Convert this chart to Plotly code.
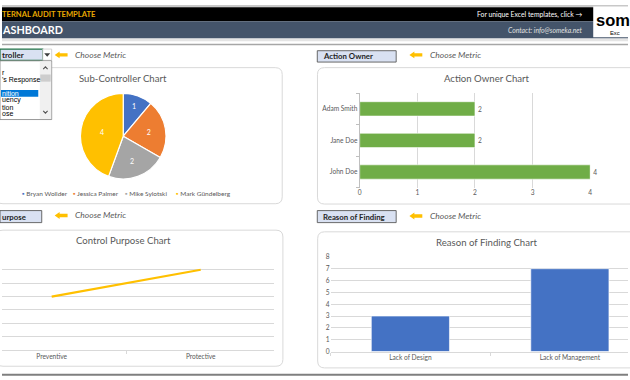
import plotly.graph_objects as go

# ---------------- data ----------------
pie_labels = ["Bryan Wollder", "Jessica Palmer", "Mike Sylotski", "Mark Gündelberg"]
pie_values = [1, 2, 2, 4]
pie_colors = ["#4472C4", "#ED7D31", "#A5A5A5", "#FFC000"]

owner_labels = ["Adam Smith", "Jane Doe", "John Doe"]
owner_values = [2, 2, 4]

purpose_labels = ["Preventive", "Protective"]
purpose_values = [4, 6]

reason_labels = ["Lack of Design", "Lack of Management"]
reason_values = [3, 7]

dropdown_items = ["r", "'s Response", "", "nition", "uency", "tion", "ose"]
dropdown_selected = "nition"

# ---------------- helpers ----------------
W, H = 630, 380
FONT = "Lato"
GRID = "#D9D9D9"
TXT = "#595959"


def X(px):
    return px / W


def Y(py):
    return 1 - py / H


shapes = []
annots = []


def rect(x0, y0, x1, y1, fill, line=None, lw=0, layer="below"):
    shapes.append(dict(type="rect", xref="paper", yref="paper",
                       x0=X(x0), x1=X(x1), y0=Y(y1), y1=Y(y0),
                       fillcolor=fill, line=dict(color=line or fill, width=lw),
                       layer=layer))


def rrect(x0, y0, x1, y1, r, color="#D9D9D9", lw=1):
    p = (f"M {X(x0+r)},{Y(y0)} L {X(x1-r)},{Y(y0)} Q {X(x1)},{Y(y0)} {X(x1)},{Y(y0+r)} "
         f"L {X(x1)},{Y(y1-r)} Q {X(x1)},{Y(y1)} {X(x1-r)},{Y(y1)} "
         f"L {X(x0+r)},{Y(y1)} Q {X(x0)},{Y(y1)} {X(x0)},{Y(y1-r)} "
         f"L {X(x0)},{Y(y0+r)} Q {X(x0)},{Y(y0)} {X(x0+r)},{Y(y0)} Z")
    shapes.append(dict(type="path", xref="paper", yref="paper", path=p,
                       line=dict(color=color, width=lw), layer="below"))


def polyline(pts, color, lw=1, closed=False, fill=None):
    p = "M " + " L ".join(f"{X(a)},{Y(b)}" for a, b in pts) + (" Z" if closed else "")
    d = dict(type="path", xref="paper", yref="paper", path=p,
             line=dict(color=color, width=lw), layer="above")
    if fill:
        d["fillcolor"] = fill
    shapes.append(d)


def arrow(x0, yc, color="#FFC000"):
    pts = [(x0, yc), (x0 + 5, yc - 3.5), (x0 + 5, yc - 1.7), (x0 + 13, yc - 1.7),
           (x0 + 13, yc + 1.7), (x0 + 5, yc + 1.7), (x0 + 5, yc + 3.5)]
    polyline(pts, color, 0, closed=True, fill=color)


def text(x, y, s, size=8, color=TXT, xanchor="left", yanchor="middle", family=FONT):
    annots.append(dict(x=X(x), y=Y(y), xref="paper", yref="paper", text=s,
                       showarrow=False, xanchor=xanchor, yanchor=yanchor,
                       font=dict(family=family, size=size, color=color),
                       borderpad=0, borderwidth=0))


# ---------------- header ----------------
rect(0, 0, W, 2.3, "#C8C8C8")
rect(0, 2.3, W, 16.7, "#000000")
rect(0, 16.7, W, 34.3, "#44546A")
rect(0, 34.3, W, 37, "#E4E4E4")
rect(0, 39.7, W, 41.2, "#A6A6A6")
rect(595, 1.5, W + 2, 33, "#FFFFFF", layer="above")
text(0, 9.5, "<b>TERNAL AUDIT TEMPLATE</b>", 7.6, "#E8A900")
text(0, 25.5, "<b>ASHBOARD</b>", 10.8, "#FFFFFF")
text(584, 10, "For unique Excel templates, click \u2192", 6.8, "#FFFFFF", xanchor="right")
text(585, 25.7, "<i>Contact: info@someka.net</i>", 6.8, "#E0E0E0", xanchor="right")
text(597.5, 15.5, "<b>som</b>", 16.5, "#000000", family="Liberation Sans")
text(612, 28.5, "Exc", 5.8, "#000000", family="Liberation Sans")

# bottom separator
rect(0, 376.6, W, 378.6, "#7F7F7F")

# ---------------- control panels ----------------
# top-left dropdown (active cell)
rect(-2, 45, 41, 56.5, "#D9E1F2", "#217346", 1.2, layer="above")
rect(41, 45, 50, 56.5, "#FFFFFF", "#C8C8C8", 0.8, layer="above")
polyline([(43.8, 50), (45.5, 52), (47.2, 50)], "#404040", 1.2, closed=True, fill="#404040")
text(0, 51, "<b>troller</b>", 8, "#1F1F1F")
# dropdown list
rect(-2, 57, 50, 117, "#FFFFFF", "#7F7F7F", 0.8, layer="above")
rect(38, 57.6, 49.5, 116.4, "#F0F0F0", layer="above")
rect(38.5, 71, 49, 78.3, "#CDCDCD", layer="above")
polyline([(41.5, 65.5), (43.7, 63.2), (45.9, 65.5)], "#505050", 1.1)
polyline([(41.5, 108.2), (43.7, 110.5), (45.9, 108.2)], "#505050", 1.1)
for i, item in enumerate(dropdown_items):
    yy = 69.3 + 7.0 * i
    if item == dropdown_selected:
        rect(-1, yy - 3.4, 36.5, yy + 3.3, "#0078D7", layer="above")
        text(0, yy, item, 7, "#FFFFFF", family="Liberation Sans")
    elif item:
        text(0, yy, item, 7, "#000000", family="Liberation Sans")

# other label boxes
rect(-2, 210, 40, 222.3, "#D9E1F2", "#595959", 0.9, layer="above")
text(0, 216.2, "<b>urpose</b>", 7.8, "#1F1F1F")
rect(317.3, 46.7, 396.7, 58.3, "#D9E1F2", "#595959", 0.9, layer="above")
text(323, 52.5, "<b>Action Owner</b>", 7.8, "#1F1F1F")
rect(317.3, 210, 396.7, 222.3, "#D9E1F2", "#595959", 0.9, layer="above")
text(323, 216.2, "<b>Reason of Finding</b>", 7.8, "#1F1F1F")

for ax, ay, tx in [(53, 51, 73), (410, 51, 431), (53, 215, 73), (410, 215.5, 431)]:
    arrow(ax, ay)
    text(tx, ay, "<i>Choose Metric</i>", 8.5, TXT)

# ---------------- cards ----------------
rrect(-6, 64, 282, 203, 7)
rrect(317.5, 64, 645, 203.3, 7)
rrect(-6, 230, 282.7, 369, 7)
rrect(317.7, 231.7, 645, 370.7, 7)

# chart titles
text(122, 75, "Sub-Controller Chart", 9.6, TXT, xanchor="center")
text(488, 75, "Action Owner Chart", 9.6, TXT, xanchor="center")
text(122, 241, "Control Purpose Chart", 9.6, TXT, xanchor="center")
text(488, 243, "Reason of Finding Chart", 9.6, TXT, xanchor="center")

# pie legend
leg_x = [20, 71, 124, 175]
for lx, lab, col in zip(leg_x, pie_labels, pie_colors):
    text(lx, 192.3, f"<span style='color:{col}'>\u25AA</span> {lab}", 6.5, TXT)

# ---------------- traces ----------------
fig = go.Figure()

fig.add_trace(go.Pie(
    labels=pie_labels, values=pie_values, sort=False, direction="clockwise",
    rotation=0, marker=dict(colors=pie_colors, line=dict(color="#FFFFFF", width=1.2)),
    textinfo="value", textposition="inside", insidetextorientation="horizontal",
    textfont=dict(family=FONT, size=7, color="#FFFFFF"),
    domain=dict(x=[X(78.3), X(165.7)], y=[Y(177.7), Y(90.3)]),
    showlegend=False, hoverinfo="label+value"))

fig.add_trace(go.Bar(
    x=owner_values, y=owner_labels, orientation="h", width=0.455,
    marker=dict(color="#70AD47", line=dict(color="#FFFFFF", width=0.6)),
    text=[str(v) for v in owner_values], textposition="outside",
    textfont=dict(family=FONT, size=6.6, color=TXT), cliponaxis=False,
    xaxis="x", yaxis="y", showlegend=False))

fig.add_trace(go.Scatter(
    x=purpose_labels, y=purpose_values, mode="lines",
    line=dict(color="#FFC000", width=2.2), xaxis="x2", yaxis="y2", showlegend=False))

fig.add_trace(go.Bar(
    x=reason_labels, y=reason_values, width=0.49,
    marker=dict(color="#4472C4", line=dict(color="#FFFFFF", width=0.6)),
    xaxis="x3", yaxis="y3", showlegend=False))

tickf = dict(family=FONT, size=6.6, color=TXT)

fig.update_layout(
    width=W, height=H, margin=dict(l=0, r=0, t=0, b=0),
    paper_bgcolor="#FFFFFF", plot_bgcolor="rgba(0,0,0,0)",
    showlegend=False, shapes=shapes, annotations=annots,
    xaxis=dict(domain=[X(360), X(592)], range=[0, 4], dtick=1, showgrid=True,
               gridcolor=GRID, gridwidth=1, zeroline=False, tickfont=tickf,
               anchor="y", fixedrange=True, ticklen=0),
    yaxis=dict(domain=[Y(186.7), Y(90)], type="category",
               categoryorder="array", categoryarray=owner_labels[::-1],
               showline=True, linecolor="#BFBFBF", linewidth=1, ticks="outside",
               tickson="boundaries", ticklen=3, tickcolor="#BFBFBF",
               showgrid=False, tickfont=tickf, anchor="x", fixedrange=True),
    xaxis2=dict(domain=[0, X(274)], type="category", range=[-0.3333, 1.4933],
                showline=True, linecolor=GRID, ticks="outside", tickson="boundaries",
                ticklen=3, tickcolor=GRID, showgrid=False, tickfont=tickf,
                anchor="y2", fixedrange=True),
    yaxis2=dict(domain=[Y(352.7), Y(256.7)], range=[0, 7], dtick=1, showgrid=True,
                gridcolor=GRID, showticklabels=False, zeroline=False,
                anchor="x2", fixedrange=True),
    xaxis3=dict(domain=[X(330.75), 1], type="category", range=[-0.5, 1.3645],
                showline=True, linecolor=GRID, ticks="outside", tickson="boundaries",
                ticklen=3, tickcolor=GRID, showgrid=False, tickfont=tickf,
                anchor="y3", fixedrange=True),
    yaxis3=dict(domain=[Y(354), Y(257.3)], range=[0, 8], dtick=1, showgrid=True,
                gridcolor=GRID, zeroline=False, tickfont=tickf,
                anchor="x3", fixedrange=True),
)

fig.write_html("out.html", config=dict(displayModeBar=False),
               post_script="document.body.style.margin='0';document.body.style.overflow='hidden';")
